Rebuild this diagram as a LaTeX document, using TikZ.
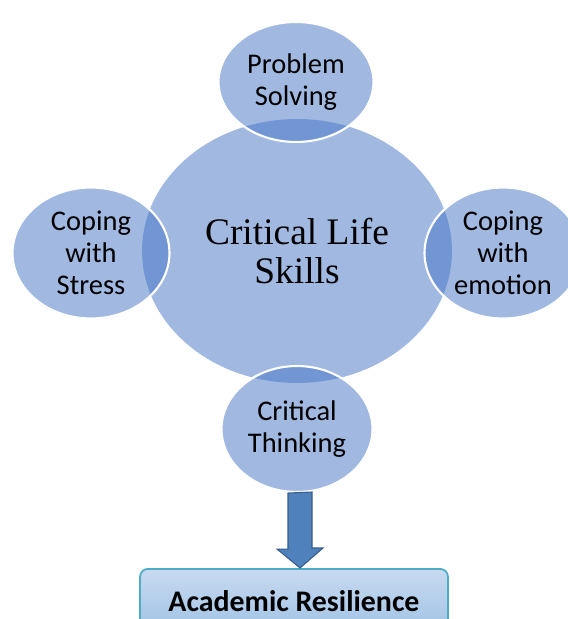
\documentclass[tikz,border=0pt]{standalone}
\usepackage{fontspec}
\setmainfont{Liberation Serif}
\newfontfamily\calibri{Carlito}
\usetikzlibrary{shapes.geometric,calc}
\definecolor{skillblue}{RGB}{68,114,196}
\definecolor{arrowblue}{RGB}{79,129,189}
\definecolor{arrowedge}{RGB}{56,93,138}
\definecolor{boxedge}{RGB}{75,172,198}
\definecolor{boxtop}{RGB}{200,218,240}
\definecolor{boxbottom}{RGB}{160,194,230}

\begin{document}
\begin{tikzpicture}[x=0.02cm,y=-0.02cm,
    skill/.style={ellipse,fill=skillblue,fill opacity=0.5,text opacity=1,draw=white,line width=1.2pt,inner sep=0pt,align=center,font=\calibri\fontsize{16.2}{18.2}\selectfont},
    core/.style={skill,draw=none,font=\fontsize{21.3}{21.9}\selectfont},
    blockarrow/.style={fill=arrowblue,draw=arrowedge,line width=0.6pt,line join=miter},
    outcome/.style={rectangle,rounded corners=0.16cm,top color=boxtop,bottom color=boxbottom,draw=boxedge,line width=1pt,minimum width=6.16cm,minimum height=1.28cm,anchor=north,font=\calibri\bfseries\fontsize{17}{20}\selectfont}]
        \useasboundingbox (0,0) rectangle (568,619);
        \clip (0,0) rectangle (568,619);
        % centre
        \node[core,minimum width=6.2cm,minimum height=5.28cm] (cls) at (297,251) {Critical Life\\Skills};
        % skills round it
        \node[skill,minimum width=3.1cm,minimum height=2.4cm] (ps) at (296,82) {Problem\\Solving};
        \node[skill,minimum width=3.14cm,minimum height=2.62cm] (cs) at (91,253) {Coping\\with\\Stress};
        \node[skill,minimum width=3.14cm,minimum height=2.62cm] (ce) at (503,253) {Coping\\with\\emotion};
        \node[skill,minimum width=3.02cm,minimum height=2.52cm] (ct) at (297,429) {Critical\\Thinking};
        % outcome
        \node[outcome] (res) at (294,568) {Academic Resilience};
        \coordinate (atop) at ($(ct.south)+(3,0)$);
        \filldraw[blockarrow] ($(atop)+(-12,0)$) -- ++(0,56) -- ++(-11,0) -- (atop |- res.north) -- ++(23,-20) -- ++(-11,0) -- ++(0,-56) -- cycle;
    \end{tikzpicture}
\end{document}
